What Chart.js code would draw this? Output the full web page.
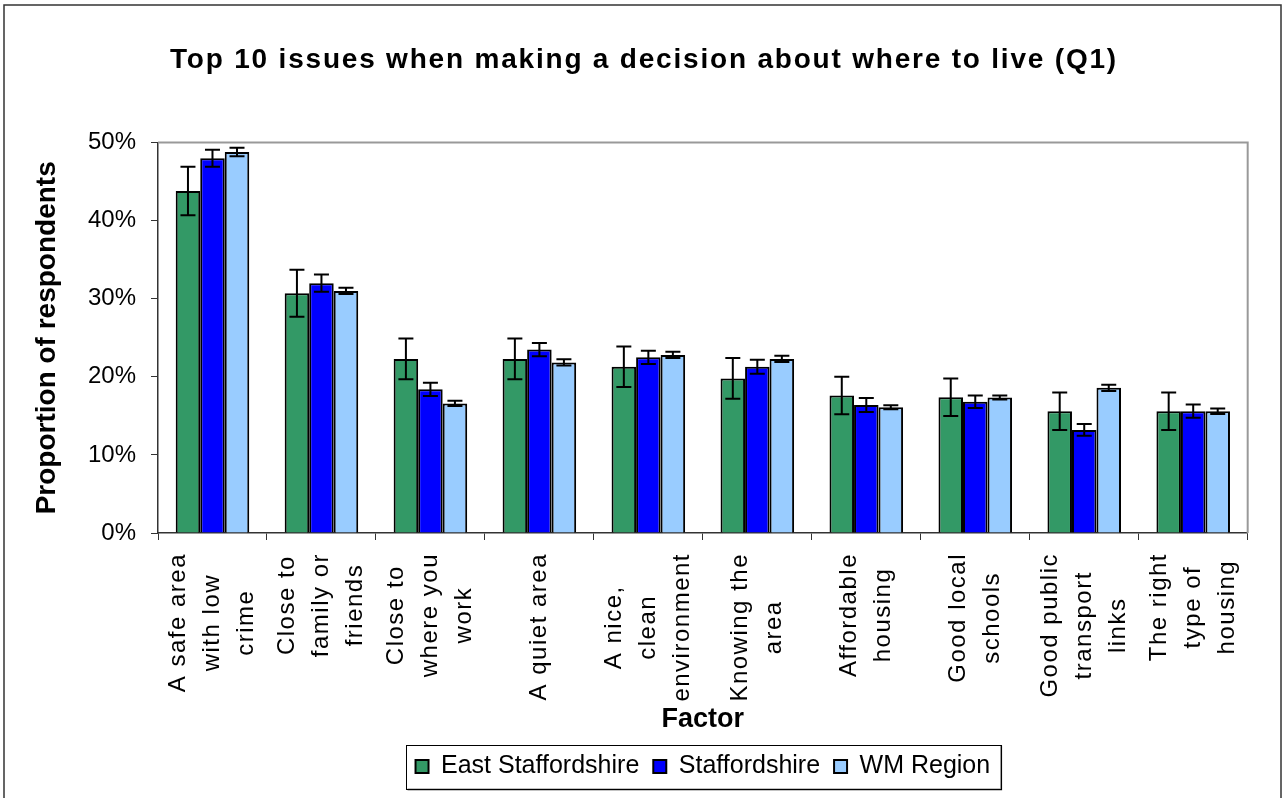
<!DOCTYPE html>
<html>
<head>
<meta charset="utf-8">
<script src="https://cdn.jsdelivr.net/npm/chart.js@4.4.0/dist/chart.umd.min.js"></script>
<style>
  html, body { margin: 0; padding: 0; background: #fff; }
</style>
</head>
<body>
<canvas id="issuesChart" width="1284" height="798"></canvas>
<script>
// factors (multi-line tick labels)
const factors = [
  ['A safe area', 'with low', 'crime'],
  ['Close to', 'family or', 'friends'],
  ['Close to', 'where you', 'work'],
  ['A quiet area'],
  ['A nice,', 'clean', 'environment'],
  ['Knowing the', 'area'],
  ['Affordable', 'housing'],
  ['Good local', 'schools'],
  ['Good public', 'transport', 'links'],
  ['The right', 'type of', 'housing']
];

// % of respondents, with error bar half-widths
const eastStaffs    = [43.8, 30.7, 22.3, 22.3, 21.3, 19.8, 17.6, 17.4, 15.6, 15.6];
const eastStaffsErr = [3.1, 3.0, 2.6, 2.6, 2.6, 2.6, 2.4, 2.4, 2.4, 2.4];
const staffs        = [48.0, 32.0, 18.4, 23.5, 22.5, 21.3, 16.4, 16.8, 13.2, 15.6];
const staffsErr     = [1.1, 1.1, 0.85, 0.85, 0.85, 0.9, 0.9, 0.8, 0.75, 0.85];
const wmRegion      = [48.8, 31.0, 16.6, 21.85, 22.8, 22.3, 16.1, 17.35, 18.6, 15.6];
const wmRegionErr   = [0.55, 0.4, 0.35, 0.4, 0.4, 0.4, 0.25, 0.25, 0.4, 0.35];

const yTicks = [0, 10, 20, 30, 40, 50];

const FONT = "'Liberation Sans', Arial, sans-serif";
Chart.defaults.font.family = FONT;
Chart.defaults.color = '#000';

const errorSets = [eastStaffsErr, staffsErr, wmRegionErr];

// frame, plot border, error bars, centred x labels, legend box
const decor = {
  id: 'decor',
  beforeDraw(chart) {
    const ctx = chart.ctx;
    ctx.save();
    ctx.fillStyle = '#fff';
    ctx.fillRect(0, 0, chart.width, chart.height);
    ctx.strokeStyle = '#333';
    ctx.lineWidth = 1.5;
    ctx.strokeRect(4, 5, chart.width - 7, chart.height + 10);
    ctx.restore();

    const tb = chart.titleBlock;
    if (tb && !tb._spaced) {
      const orig = tb.draw.bind(tb);
      tb.draw = function (area) {
        ctx.save();
        ctx.translate(16, 0);
        ctx.letterSpacing = '1.8px';
        orig(area);
        ctx.restore();
      };
      tb._spaced = true;
    }
  },
  beforeDatasetsDraw(chart) {
    const {ctx, chartArea: a} = chart;
    ctx.save();
    ctx.strokeStyle = '#999';
    ctx.lineWidth = 2;
    ctx.beginPath();
    ctx.moveTo(a.left, a.top);
    ctx.lineTo(a.right, a.top);
    ctx.lineTo(a.right, a.bottom);
    ctx.stroke();
    ctx.restore();
  },
  afterDatasetsDraw(chart) {
    const ctx = chart.ctx;
    const y = chart.scales.y;
    ctx.save();
    ctx.strokeStyle = '#000';
    ctx.lineWidth = 2;
    chart.data.datasets.forEach((ds, i) => {
      const meta = chart.getDatasetMeta(i);
      const errs = errorSets[i];
      meta.data.forEach((bar, j) => {
        const v = ds.data[j];
        const top = y.getPixelForValue(v + errs[j]);
        const bot = y.getPixelForValue(v - errs[j]);
        ctx.beginPath();
        ctx.moveTo(bar.x, top); ctx.lineTo(bar.x, bot);
        ctx.moveTo(bar.x - 7.5, top); ctx.lineTo(bar.x + 7.5, top);
        ctx.moveTo(bar.x - 7.5, bot); ctx.lineTo(bar.x + 7.5, bot);
        ctx.stroke();
      });
    });
    ctx.restore();
  },
  afterDraw(chart) {
    const ctx = chart.ctx;
    const x = chart.scales.x;
    const lineH = 34;
    ctx.save();
    ctx.font = '24px ' + FONT;
    ctx.letterSpacing = '1.5px';
    ctx.fillStyle = '#000';
    ctx.textAlign = 'center';
    ctx.textBaseline = 'middle';
    factors.forEach((lines, i) => {
      const px = x.getPixelForTick(i);
      const maxW = Math.max(...lines.map(l => ctx.measureText(l).width));
      const cy = chart.chartArea.bottom + 20 + maxW / 2;
      lines.forEach((l, j) => {
        ctx.save();
        ctx.translate(px + (j - (lines.length - 1) / 2) * lineH, cy);
        ctx.rotate(-Math.PI / 2);
        ctx.fillText(l, 0, 0);
        ctx.restore();
      });
    });
    ctx.restore();

    const lg = chart.legend;
    if (lg && lg.legendHitBoxes.length) {
      const hb = lg.legendHitBoxes;
      const left = Math.min(...hb.map(h => h.left)) - 10;
      const right = Math.max(...hb.map(h => h.left + h.width)) + 10;
      const cy = hb[0].top + hb[0].height / 2;
      ctx.save();
      ctx.strokeStyle = '#888';
      ctx.lineWidth = 2;
      ctx.beginPath();
      ctx.moveTo(left + 2, cy + 23); ctx.lineTo(right + 1, cy + 23); ctx.lineTo(right + 1, cy - 21);
      ctx.stroke();
      ctx.strokeStyle = '#000';
      ctx.lineWidth = 1;
      ctx.strokeRect(Math.round(left) + 0.5, Math.round(cy - 22) + 0.5, Math.round(right - left), 44);
      ctx.restore();
    }
  }
};

new Chart(document.getElementById('issuesChart'), {
  type: 'bar',
  data: {
    labels: factors,
    datasets: [
      { label: 'East Staffordshire', data: eastStaffs, backgroundColor: '#339966' },
      { label: 'Staffordshire', data: staffs, backgroundColor: '#0000FF' },
      { label: 'WM Region', data: wmRegion, backgroundColor: '#99CCFF' }
    ].map(d => Object.assign(d, {
      borderColor: '#000',
      borderWidth: 2,
      barPercentage: 1.0,
      categoryPercentage: 0.675
    }))
  },
  options: {
    responsive: false,
    animation: false,
    devicePixelRatio: 1,
    layout: { padding: { left: 0, right: 28, top: 0, bottom: 9 } },
    plugins: {
      title: {
        display: true,
        text: 'Top 10 issues when making a decision about where to live (Q1)',
        font: { size: 28, weight: 'bold' },
        color: '#000',
        padding: { top: 43, bottom: 66 }
      },
      legend: {
        position: 'bottom',
        fullSize: false,
        maxHeight: 61,
        labels: {
          boxWidth: 13,
          boxHeight: 13,
          padding: 14,
          font: { size: 25 },
          color: '#000'
        }
      },
      tooltip: { enabled: false }
    },
    scales: {
      x: {
        grid: {
          offset: true,
          drawOnChartArea: false,
          tickLength: 7,
          tickColor: '#333'
        },
        border: { color: '#333', width: 1.5 },
        ticks: {
          color: 'rgba(0,0,0,0)',
          font: { size: 24 },
          maxRotation: 90,
          minRotation: 90,
          autoSkip: false
        },
        title: {
          display: true,
          text: 'Factor',
          font: { size: 27, weight: 'bold' },
          color: '#000',
          padding: { top: 0, bottom: 4 }
        },
        afterFit(scale) { scale.height = 207; }
      },
      y: {
        min: 0,
        max: 50,
        afterBuildTicks(scale) { scale.ticks = yTicks.map(v => ({ value: v })); },
        grid: {
          drawOnChartArea: false,
          tickLength: 7,
          tickColor: '#333'
        },
        border: { color: '#333', width: 1.5 },
        ticks: {
          font: { size: 24 },
          padding: 15,
          callback: v => v + '%'
        },
        title: {
          display: true,
          text: 'Proportion of respondents',
          font: { size: 28, weight: 'bold' },
          color: '#000',
          padding: { top: 30, bottom: 0 }
        },
        afterFit(scale) { scale.width = 158; }
      }
    }
  },
  plugins: [decor]
});
</script>
</body>
</html>
